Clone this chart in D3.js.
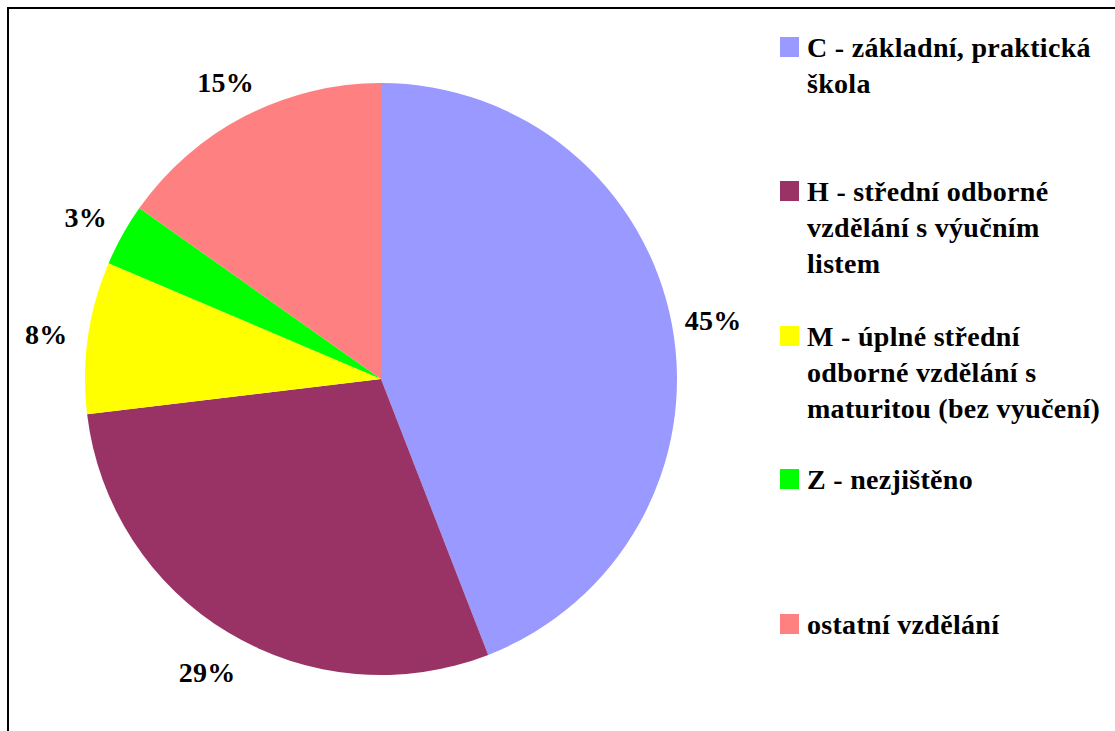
<!DOCTYPE html>
<html><head><meta charset="utf-8"><script src="https://cdn.jsdelivr.net/npm/d3@7"></script></head>
<body style="margin:0">
<svg id="chart" width="1115" height="731"></svg>
<script>
const categories = ["C", "H", "M", "Z", "ostatní"];
const values = [44.1, 29.0, 8.3, 3.4, 15.2];
const valueLabels = ["45%", "29%", "8%", "3%", "15%"];
const legendLines = [
  ["C - základní, praktická", "škola"],
  ["H - střední odborné", "vzdělání s výučním", "listem"],
  ["M - úplné střední", "odborné vzdělání s", "maturitou (bez vyučení)"],
  ["Z - nezjištěno"],
  ["ostatní vzdělání"]
];
const colors = ["#9999FF", "#993366", "#FFFF00", "#00FF00", "#FF8080"];

const svg = d3.select("#chart");
svg.append("rect").attr("width", 1115).attr("height", 731).attr("fill", "#fff");
svg.append("rect").attr("x", 8).attr("y", 8).attr("width", 1200).attr("height", 800)
  .attr("fill", "#fff").attr("stroke", "#000").attr("stroke-width", 2);

const cx = 381, cy = 379, r = 296;
const data = categories.map((c, i) => ({cat: c, value: values[i], label: valueLabels[i], color: colors[i]}));
const pie = d3.pie().sort(null).value(d => d.value);
const arcs = pie(data);
const arc = d3.arc().innerRadius(0).outerRadius(r);
const labelArc = d3.arc().innerRadius(338).outerRadius(338);

const g = svg.append("g").attr("transform", `translate(${cx},${cy})`);
g.selectAll("path").data(arcs).join("path")
  .attr("d", arc).attr("fill", d => d.data.color);

arcs.forEach(d => {
  const c = labelArc.centroid(d);
  svg.append("text")
    .attr("x", cx + c[0])
    .attr("y", cy + c[1] + 13)
    .attr("text-anchor", "middle")
    .attr("font-family", "Liberation Serif")
    .attr("font-weight", "bold")
    .attr("font-size", 28)
    .attr("letter-spacing", 0.3)
    .text(d.data.label);
});

// legend
const itemCenters = [47, 191, 336, 479, 624];
data.forEach((d, i) => {
  const yc = itemCenters[i];
  svg.append("rect").attr("x", 780).attr("y", yc - 10).attr("width", 19).attr("height", 20)
    .attr("fill", d.color);
  legendLines[i].forEach((line, j) => {
    svg.append("text").attr("x", 807).attr("y", yc + 10 + j * 36)
      .attr("font-family", "Liberation Serif").attr("font-weight", "bold").attr("font-size", 28)
      .attr("letter-spacing", 0.3)
      .text(line);
  });
});
</script>
</body>
</html>
